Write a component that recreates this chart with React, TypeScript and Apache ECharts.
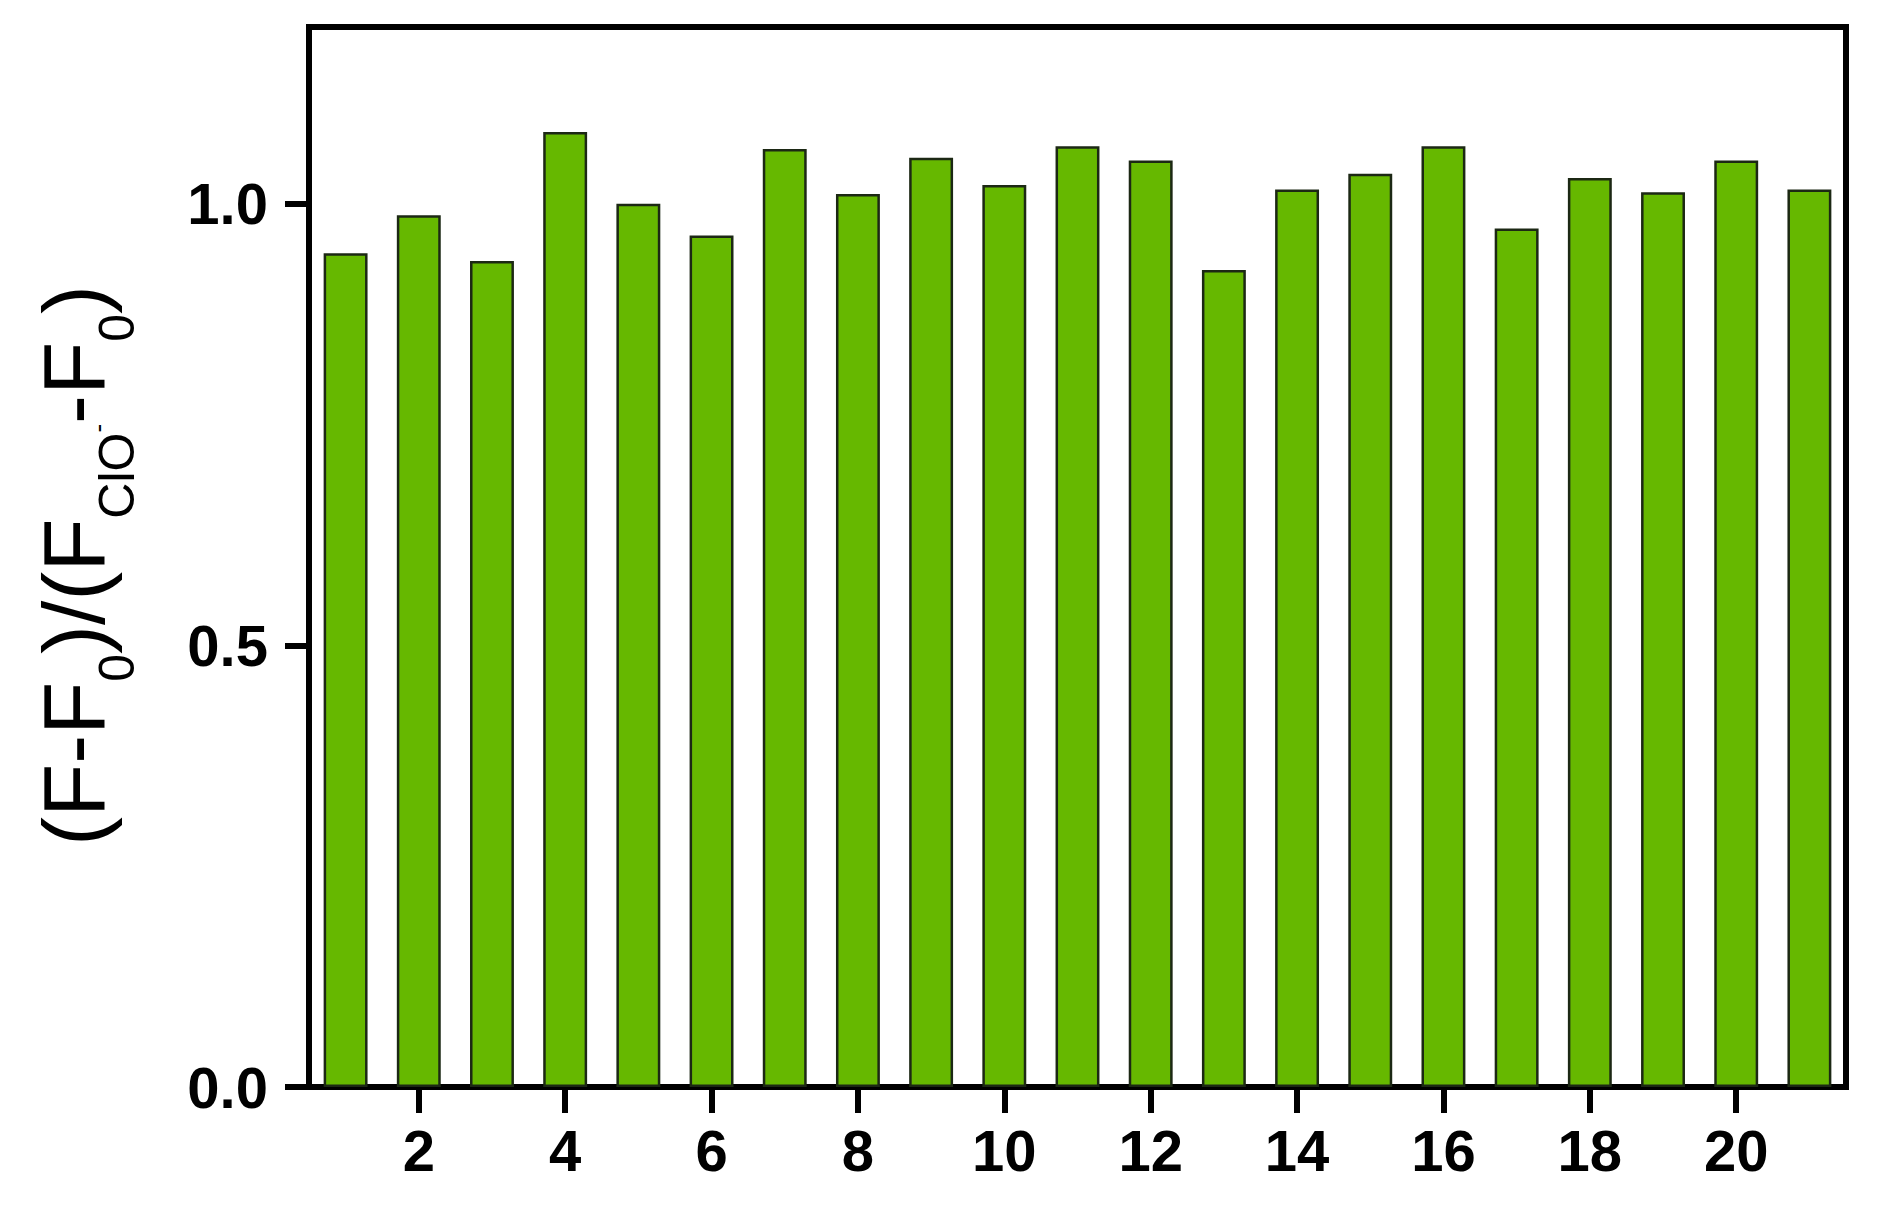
import React, { useEffect, useRef } from "react";
import * as echarts from "echarts";

const categories: string[] = [
  "1", "2", "3", "4", "5", "6", "7", "8", "9", "10",
  "11", "12", "13", "14", "15", "16", "17", "18", "19", "20", "21",
];
const values: number[] = [
  0.944, 0.987, 0.935, 1.081, 1.0, 0.964, 1.062, 1.011, 1.052, 1.021,
  1.065, 1.049, 0.925, 1.016, 1.034, 1.065, 0.972, 1.029, 1.013, 1.049, 1.016,
];
const yTickValues: number[] = [0, 0.5, 1.0];
const yMin = 0;
const yMax = 1.2;

const FONT = "'Liberation Sans', Arial, Helvetica, sans-serif";

export default function App() {
  const ref = useRef<HTMLDivElement>(null);

  useEffect(() => {
    if (!ref.current) return;
    const chart = echarts.init(ref.current, null, { renderer: "svg" });
    const showEven = (index: number) => index % 2 === 1;
    chart.setOption({
      animation: false,
      backgroundColor: "#ffffff",
      grid: {
        left: 309,
        right: 36,
        top: 27,
        bottom: 122,
        containLabel: false,
        show: true,
        borderColor: "#000000",
        borderWidth: 6,
        backgroundColor: "transparent",
      },
      xAxis: {
        type: "category",
        data: categories,
        boundaryGap: true,
        axisLine: { show: true, lineStyle: { color: "#000000", width: 6 } },
        axisTick: {
          show: true,
          alignWithLabel: true,
          interval: showEven,
          length: 26,
          lineStyle: { color: "#000000", width: 6 },
        },
        axisLabel: {
          interval: showEven,
          color: "#000000",
          fontFamily: FONT,
          fontWeight: "bold",
          fontSize: 58,
          margin: 34,
        },
        splitLine: { show: false },
      },
      yAxis: {
        type: "value",
        min: yMin,
        max: yMax,
        interval: 0.5,
        axisLine: { show: true, lineStyle: { color: "#000000", width: 6 } },
        axisTick: {
          show: true,
          length: 24,
          customValues: yTickValues,
          lineStyle: { color: "#000000", width: 6 },
        },
        axisLabel: {
          customValues: yTickValues,
          formatter: (v: number) => v.toFixed(1),
          color: "#000000",
          fontFamily: FONT,
          fontWeight: "bold",
          fontSize: 58,
          margin: 41,
        },
        splitLine: { show: false },
        name: "{m|(F-F}{s|0}{m|)/(F}{s|ClO}{u|-}{m|-F}{s|0}{m|)}",
        nameLocation: "middle",
        nameRotate: 90,
        nameGap: 192,
        nameTextStyle: {
          fontFamily: FONT,
          color: "#000000",
          padding: [0, 17, 0, 0],
          rich: {
            m: { fontFamily: FONT, fontSize: 87, lineHeight: 87, verticalAlign: "top", color: "#000000" },
            s: { fontFamily: FONT, fontSize: 50, lineHeight: 50, verticalAlign: "top", padding: [62, 0, 0, 0], color: "#000000" },
            u: { fontFamily: FONT, fontSize: 26, lineHeight: 26, verticalAlign: "top", padding: [55, 0, 0, 0], color: "#000000" },
          },
        },
      },
      series: [
        {
          type: "bar",
          data: values,
          barWidth: "60%",
          itemStyle: {
            color: "#66b800",
            borderColor: "#1c2814",
            borderWidth: 2.5,
          },
        },
      ],
    });
    return () => {
      chart.dispose();
    };
  }, []);

  return (
    <div
      ref={ref}
      style={{ position: "absolute", left: 0, top: 0, width: 1882, height: 1209 }}
    />
  );
}
